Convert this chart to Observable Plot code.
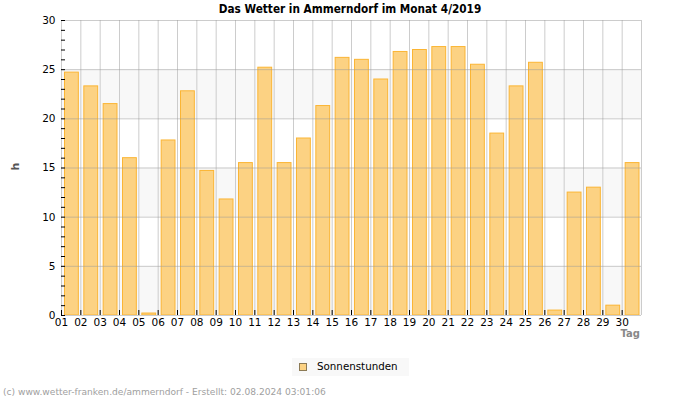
<!DOCTYPE html>
<html>
<head>
<meta charset="utf-8">
<script src="https://cdn.jsdelivr.net/npm/d3@7"></script>
<script src="https://cdn.jsdelivr.net/npm/@observablehq/plot@0.6"></script>
<style>
  html, body { margin: 0; padding: 0; background: #fff; }
  #wrap { position: relative; width: 700px; height: 400px; font-family: "DejaVu Sans", sans-serif; }
  #wrap svg { position: absolute; left: 0; top: 0; }
  .title { position: absolute; left: 0; width: 700px; top: 2px; text-align: center;
    font-family: "DejaVu Sans Condensed", "DejaVu Sans", sans-serif; font-stretch: condensed;
    font-weight: bold; font-size: 11.7px; color: #000; }
  .ylab { position: absolute; left: 12px; top: 160px; font-weight: bold; font-size: 11px; color: #555;
    transform: rotate(-90deg); transform-origin: center; }
  .xlab { position: absolute; right: 60px; top: 328px; font-weight: bold; font-size: 10px; color: #888; }
  .legend { position: absolute; left: 292px; top: 358px; width: 117px; height: 18px; background: #f8f8f8; }
  .legend .sw { position: absolute; left: 7px; top: 5px; width: 6px; height: 6px; background: #fcd283; border: 1px solid #8c7a55; }
  .legend .tx { position: absolute; left: 25px; top: 2px; font-size: 10.3px; color: #000; }
  .footer { position: absolute; left: 3px; top: 387px; font-size: 9.1px; color: #a0a0a0; white-space: nowrap; }
</style>
</head>
<body>
<div id="wrap">
  <div class="title">Das Wetter in Ammerndorf im Monat 4/2019</div>
  <div class="ylab">h</div>
  <div class="xlab">Tag</div>
  <div class="legend"><div class="sw"></div><div class="tx">Sonnenstunden</div></div>
  <div class="footer">(c) www.wetter-franken.de/ammerndorf - Erstellt: 02.08.2024 03:01:06</div>
</div>
<script>
const days = d3.range(1, 31);
const sunHours = [24.7, 23.3, 21.5, 16.0, 0.2, 17.8, 22.8, 14.7, 11.8, 15.5,
                  25.2, 15.5, 18.0, 21.3, 26.2, 26.0, 24.0, 26.8, 27.0, 27.3,
                  27.3, 25.5, 18.5, 23.3, 25.7, 0.5, 12.5, 13.0, 1.0, 15.5];
const yMajor = [0, 5, 10, 15, 20, 25, 30];
const yMinor = d3.range(0, 31);
const bandLows = [0, 10, 20];
const dayBounds = d3.range(1, 32);

const data = days.map((d, i) => ({day: d, value: sunHours[i]}));

const W = 700, H = 400, mT = 20, mB = 85, mL = 61, mR = 59;
const fw = W - mL - mR, fh = H - mT - mB;

const chart = Plot.plot({
  width: W, height: H,
  marginTop: mT, marginBottom: mB, marginLeft: mL, marginRight: mR,
  style: {fontFamily: "DejaVu Sans, sans-serif", fontSize: "10.5px", color: "#000", background: "transparent"},
  x: {type: "linear", domain: [1, 31]},
  y: {domain: [0, 30]},
  marks: [
    Plot.rect(bandLows, {x1: () => 1, x2: () => 31, y1: d => d, y2: d => d + 5, fill: "#f8f8f8"}),
    Plot.ruleX(dayBounds, {stroke: "#cccccc", strokeWidth: 1}),
    Plot.rectY(data, {x1: d => d.day, x2: d => d.day + 1, y: "value",
      insetLeft: 3.5, insetRight: 2, fill: "#fcd283", stroke: "#fbb534", strokeWidth: 1}),
    Plot.ruleY(yMajor.filter(v => v > 0), {stroke: "#999", strokeOpacity: 0.5}),
    Plot.ruleY([0], {stroke: "#cccccc"}),
    Plot.tickY(yMinor, {y: d => d, insetRight: fw - 4, stroke: "#000"}),
    Plot.tickX(dayBounds.slice(0, 30), {x: d => d, insetTop: fh - 5, stroke: "#000"}),
    Plot.axisY({ticks: yMajor, tickSize: 0, tickPadding: 6, label: null}),
    Plot.axisX({ticks: days, tickSize: 0, tickPadding: 3, label: null,
      tickFormat: d => String(d).padStart(2, "0")})
  ]
});
document.getElementById("wrap").prepend(chart);
</script>
</body>
</html>
